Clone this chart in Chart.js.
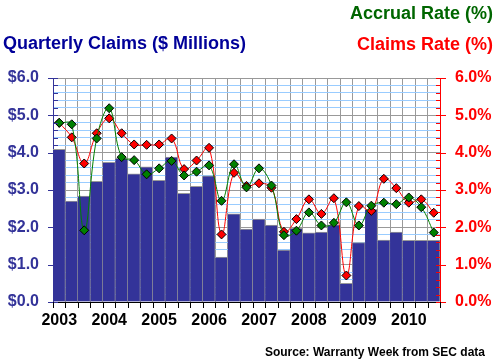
<!DOCTYPE html>
<html>
<head>
<meta charset="utf-8">
<script src="https://cdn.jsdelivr.net/npm/chart.js@4.4.0/dist/chart.umd.min.js"></script>
<style>
  body { margin: 0; background: #fff; }
  #wrap { position: relative; width: 497px; height: 364px; font-family: "Liberation Sans", Arial, sans-serif; font-weight: bold; }
  #wrap div { position: absolute; white-space: nowrap; }
  #accrualTitle { right: 4px; top: 4px; font-size: 18px; line-height: 18px; color: #006600; }
  #claimsTitle { right: 4px; top: 35px; font-size: 18px; line-height: 18px; color: #ff0000; }
  #leftTitle { left: 3px; top: 34px; font-size: 18px; line-height: 18px; color: #000099; }
  #source { right: 12px; top: 346px; font-size: 12px; line-height: 12px; color: #000; }
</style>
</head>
<body>
<div id="wrap">
  <canvas id="chart" width="497" height="364"></canvas>
  <div id="accrualTitle">Accrual Rate (%)</div>
  <div id="claimsTitle">Claims Rate (%)</div>
  <div id="leftTitle">Quarterly Claims ($ Millions)</div>
  <div id="source">Source: Warranty Week from SEC data</div>
</div>
<script>
// 2003 Q1 .. 2010 Q3
let years = ["2003", "2004", "2005", "2006", "2007", "2008", "2009", "2010"];
let quarterCount = 31;

let claims = [
    4.09, 2.70, 2.84, 3.23,
    3.74, 3.85, 3.43, 3.62,
    3.26, 3.88, 2.91, 3.10,
    3.38, 1.20, 2.36, 1.95,
    2.22, 2.06, 1.39, 1.97,
    1.85, 1.87, 2.07, 0.50,
    1.59, 2.48, 1.66, 1.87,
    1.65, 1.65, 1.65
];

let claimsRate = [
    4.80, 4.41, 3.71, 4.52,
    4.92, 4.52, 4.22, 4.21,
    4.22, 4.38, 3.56, 3.79,
    4.13, 1.81, 3.46, 3.11,
    3.18, 3.06, 1.88, 2.22,
    2.75, 2.36, 2.78, 0.71,
    2.57, 2.44, 3.30, 3.05,
    2.66, 2.75, 2.39
];

let accrualRate = [
    4.80, 4.76, 1.92, 4.38,
    5.19, 3.88, 3.80, 3.42,
    3.58, 3.78, 3.39, 3.49,
    3.66, 2.71, 3.69, 3.07,
    3.58, 3.12, 1.79, 1.91,
    2.40, 2.05, 2.12, 2.67,
    2.05, 2.58, 2.66, 2.62,
    2.80, 2.54, 1.86
];

let labels = [];
for (let i = 0; i < quarterCount; i++) {
    labels.push(years[Math.floor(i / 4)] + " Q" + (i % 4 + 1));
}

function isMajor(v) {
    return Math.abs(v - Math.round(v)) < 1e-6;
}

// axis tick marks: long ones crossing the axis at whole values, short ones inside
const tickMarks = {
    id: "tickMarks",
    afterDraw(chart) {
        let ctx = chart.ctx;
        let x = chart.scales.x, y = chart.scales.y, y1 = chart.scales.y1;
        ctx.save();
        ctx.lineWidth = 1;

        ctx.strokeStyle = "#333399";
        y.ticks.forEach(function(t) {
            let py = Math.round(y.getPixelForValue(t.value)) + 0.5;
            ctx.beginPath();
            ctx.moveTo(y.right - (isMajor(t.value) ? 5 : 0), py);
            ctx.lineTo(y.right + 5, py);
            ctx.stroke();
        });

        ctx.strokeStyle = "#ff0000";
        y1.ticks.forEach(function(t) {
            let py = Math.round(y1.getPixelForValue(t.value)) + 0.5;
            ctx.beginPath();
            ctx.moveTo(y1.left - 4, py);
            ctx.lineTo(y1.left + (isMajor(t.value) ? 6 : 0), py);
            ctx.stroke();
        });

        ctx.strokeStyle = "#000";
        let step = (x.right - x.left) / quarterCount;
        for (let i = 0; i <= quarterCount; i++) {
            let px = Math.round(x.left + i * step) + 0.5;
            ctx.beginPath();
            ctx.moveTo(px, x.top);
            ctx.lineTo(px, x.top + 6);
            ctx.stroke();
        }
        ctx.restore();
    }
};

let display = new Chart(document.getElementById("chart").getContext("2d"),
{
    type: "bar",
    data: {
        labels: labels,
        datasets: [
            {
                type: "line",
                label: "Accrual Rate (%)",
                data: accrualRate,
                yAxisID: "y1",
                order: 0,
                borderColor: "#008000",
                borderWidth: 1,
                tension: 0.4,
                pointStyle: "rectRot",
                pointRadius: 4.5,
                pointBackgroundColor: "#008000",
                pointBorderColor: "#000",
                pointBorderWidth: 1
            },
            {
                type: "line",
                label: "Claims Rate (%)",
                data: claimsRate,
                yAxisID: "y1",
                order: 1,
                borderColor: "#ff0000",
                borderWidth: 1,
                tension: 0.4,
                pointStyle: "rectRot",
                pointRadius: 4.5,
                pointBackgroundColor: "#ff0000",
                pointBorderColor: "#000",
                pointBorderWidth: 1
            },
            {
                label: "Quarterly Claims ($ Millions)",
                data: claims,
                yAxisID: "y",
                order: 2,
                backgroundColor: "#333399",
                borderColor: "#999999",
                borderWidth: { top: 1, right: 1, left: 0, bottom: 0 },
                borderSkipped: false,
                categoryPercentage: 1,
                barPercentage: 1
            }
        ]
    },
    options: {
        responsive: false,
        animation: false,
        layout: { padding: { top: 78, left: 0, right: 0, bottom: 0 } },
        plugins: {
            legend: { display: false },
            tooltip: { enabled: false }
        },
        scales: {
            x: {
                afterFit: function(s) { s.height = 62; },
                border: { color: "#000" },
                grid: { color: "#999999", offset: true, drawTicks: false },
                ticks: {
                    autoSkip: false,
                    maxRotation: 0,
                    padding: 9,
                    color: "#000",
                    font: { family: "Liberation Sans", size: 16, weight: "bold" },
                    callback: function(v, i) { return i % 4 === 0 ? years[i / 4] : ""; }
                }
            },
            y: {
                position: "left",
                min: 0,
                max: 6,
                afterFit: function(s) { s.width = 53; },
                border: { color: "#333399" },
                grid: {
                    drawTicks: false,
                    color: function(c) { return isMajor(c.tick.value) ? "#999999" : "#99ccff"; }
                },
                ticks: {
                    stepSize: 0.2,
                    autoSkip: false,
                    padding: 14,
                    color: "#333399",
                    font: { family: "Liberation Sans", size: 16, weight: "bold" },
                    callback: function(v) { return isMajor(v) ? "$" + v.toFixed(1) : ""; }
                }
            },
            y1: {
                position: "right",
                min: 0,
                max: 6,
                afterFit: function(s) { s.width = 57; },
                border: { color: "#ff0000" },
                grid: { drawOnChartArea: false, drawTicks: false },
                ticks: {
                    stepSize: 0.2,
                    autoSkip: false,
                    padding: 15,
                    color: "#ff0000",
                    font: { family: "Liberation Sans", size: 16, weight: "bold" },
                    callback: function(v) { return isMajor(v) ? v.toFixed(1) + "%" : ""; }
                }
            }
        }
    },
    plugins: [tickMarks]
});
</script>
</body>
</html>
